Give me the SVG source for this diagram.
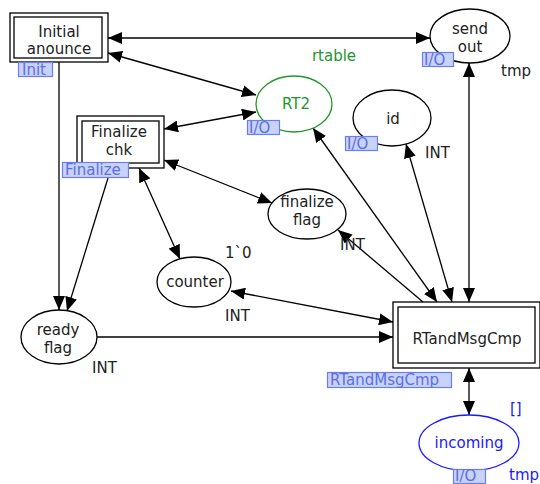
<svg xmlns="http://www.w3.org/2000/svg" width="540" height="484" viewBox="0 0 540 484">
<style>
text{font-family:"DejaVu Sans","Verdana",sans-serif;font-size:15px;fill:#222;}
.c{text-anchor:middle;}
.box{fill:#fff;stroke:#000;stroke-width:1.3;}
.pl{fill:#fff;stroke:#000;stroke-width:1.3;}
.tag{fill:#c9d2fb;stroke:#6a80e8;stroke-width:1.2;}
.tt{fill:#5a70e0;}
.arc{fill:none;stroke:#000;stroke-width:1.3;}
.green{fill:#22962a;}
.blue{fill:#1a1aff;}
</style>
<defs>
<marker id="ah" markerUnits="userSpaceOnUse" markerWidth="14" markerHeight="12" viewBox="0 0 14 12" refX="14" refY="6" orient="auto-start-reverse">
<path d="M0,0 L14,6 L0,12 z" fill="#000"/>
</marker>
</defs>
<rect width="540" height="484" fill="#fff"/>

<g id="connectors">
<line class="arc" x1="108" y1="38" x2="430" y2="38" marker-start="url(#ah)" marker-end="url(#ah)"/>
<line class="arc" x1="108" y1="53" x2="256" y2="95" marker-start="url(#ah)" marker-end="url(#ah)"/>
<line class="arc" x1="164" y1="129" x2="256" y2="112" marker-start="url(#ah)" marker-end="url(#ah)"/>
<line class="arc" x1="164" y1="160" x2="272" y2="203" marker-start="url(#ah)" marker-end="url(#ah)"/>
<line class="arc" x1="139" y1="168" x2="180" y2="259" marker-start="url(#ah)" marker-end="url(#ah)"/>
<line class="arc" x1="59" y1="62" x2="59" y2="310" marker-end="url(#ah)"/>
<line class="arc" x1="108" y1="178" x2="67" y2="311" marker-end="url(#ah)"/>
<line class="arc" x1="97" y1="337" x2="393" y2="337" marker-end="url(#ah)"/>
<line class="arc" x1="231" y1="291" x2="393" y2="322" marker-start="url(#ah)" marker-end="url(#ah)"/>
<line class="arc" x1="423" y1="302" x2="338" y2="230" marker-end="url(#ah)"/>
<line class="arc" x1="437" y1="302" x2="313" y2="128" marker-start="url(#ah)" marker-end="url(#ah)"/>
<line class="arc" x1="452" y1="302" x2="406" y2="144" marker-start="url(#ah)" marker-end="url(#ah)"/>
<line class="arc" x1="469" y1="302" x2="469" y2="63" marker-start="url(#ah)" marker-end="url(#ah)"/>
<line class="arc" x1="469" y1="368" x2="469" y2="415" marker-start="url(#ah)" marker-end="url(#ah)"/>
</g>

<g id="initial-anounce">
<rect class="box" x="10" y="13" width="98" height="49"/>
<rect class="box" x="14" y="17" width="88" height="41"/>
<text class="c" x="59" y="37">Initial</text>
<text class="c" x="59" y="54">anounce</text>
<rect class="tag" x="18.5" y="62.5" width="34" height="14"/>
<text class="tt" x="22" y="75">Init</text>
</g>

<g id="send-out">
<ellipse class="pl" cx="470" cy="36" rx="40" ry="27"/>
<text class="c" x="470" y="34">send</text>
<text class="c" x="470" y="52">out</text>
<rect class="tag" x="422.5" y="52.5" width="31" height="14"/>
<text class="tt" x="424" y="65">I/O</text>
<text x="501" y="76">tmp</text>
</g>

<g id="rtable-label">
<text class="c green" x="334" y="61">rtable</text>
</g>

<g id="rt2">
<ellipse cx="294" cy="104" rx="38" ry="28" fill="#fff" stroke="#22962a" stroke-width="1.3"/>
<text class="c green" x="296" y="109">RT2</text>
<rect class="tag" x="247.5" y="120.5" width="32" height="14"/>
<text class="tt" x="249" y="133">I/O</text>
</g>

<g id="id">
<ellipse class="pl" cx="392" cy="118" rx="39" ry="28"/>
<text class="c" x="393" y="124">id</text>
<rect class="tag" x="345.5" y="136.5" width="32" height="14"/>
<text class="tt" x="347" y="149">I/O</text>
<text x="425" y="158">INT</text>
</g>

<g id="finalize-chk">
<rect class="box" x="77" y="116" width="87" height="52"/>
<rect class="box" x="82" y="121" width="77" height="42"/>
<text class="c" x="119" y="137">Finalize</text>
<text class="c" x="119" y="155">chk</text>
<rect class="tag" x="62.5" y="162.5" width="66" height="15"/>
<text class="tt" x="65" y="175">Finalize</text>
</g>

<g id="finalize-flag">
<ellipse class="pl" cx="307" cy="214" rx="39" ry="25"/>
<text class="c" x="307" y="207">finalize</text>
<text class="c" x="307" y="225">flag</text>
<text x="340" y="250">INT</text>
</g>

<g id="counter">
<ellipse class="pl" cx="194" cy="282" rx="37" ry="25"/>
<text class="c" x="195" y="287">counter</text>
<text x="225" y="258">1`0</text>
<text x="225" y="321">INT</text>
</g>

<g id="ready-flag">
<ellipse class="pl" cx="59" cy="337" rx="38" ry="27"/>
<text class="c" x="58" y="335">ready</text>
<text class="c" x="58" y="353">flag</text>
<text x="92" y="373">INT</text>
</g>

<g id="rtandmsgcmp">
<rect class="box" x="393" y="302" width="147" height="66"/>
<rect class="box" x="398" y="307" width="137" height="56"/>
<text class="c" x="467" y="344">RTandMsgCmp</text>
<rect class="tag" x="327.5" y="372.5" width="124" height="15"/>
<text class="tt" x="330" y="385">RTandMsgCmp</text>
</g>

<g id="incoming">
<ellipse cx="469" cy="443" rx="50" ry="28" fill="#fff" stroke="#1a1aff" stroke-width="1.3"/>
<text class="c blue" x="469" y="448">incoming</text>
<text class="blue" x="510" y="414">[]</text>
<rect class="tag" x="453.5" y="469.5" width="32" height="14"/>
<text class="tt" x="455" y="481">I/O</text>
<text class="blue" x="509" y="480">tmp</text>
</g>
</svg>
